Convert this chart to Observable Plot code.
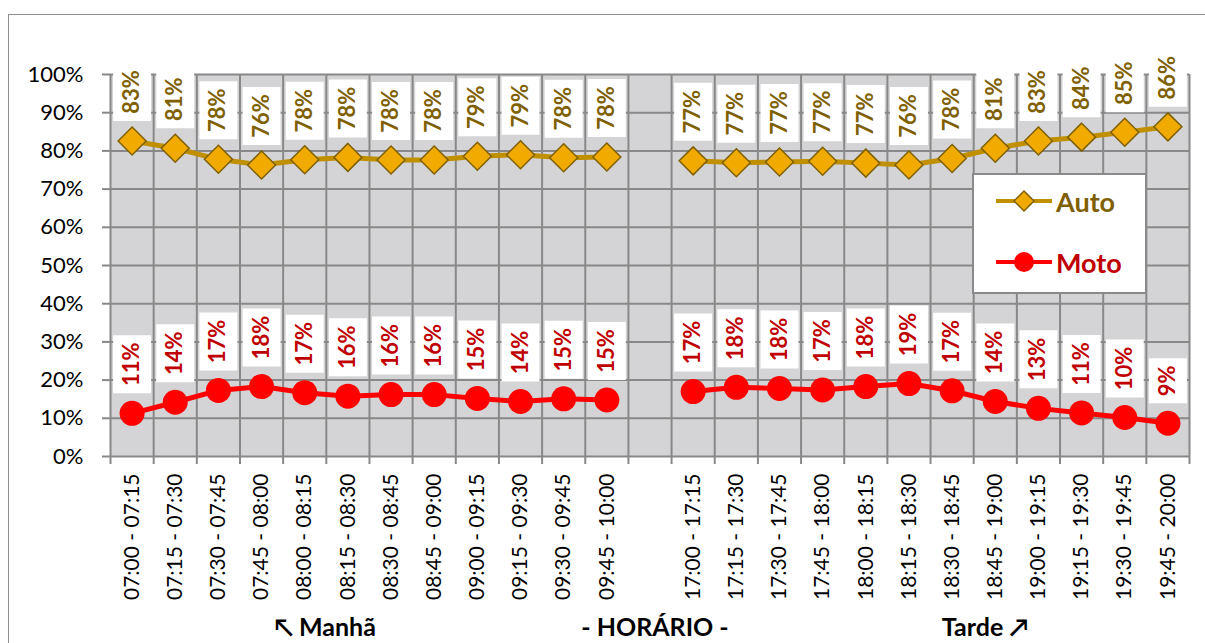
<!DOCTYPE html>
<html>
<head>
<meta charset="utf-8">
<script src="https://cdn.jsdelivr.net/npm/d3@7"></script>
<script src="https://cdn.jsdelivr.net/npm/@observablehq/plot@0.6"></script>
<style>
  body { margin: 0; background: #fff; font-family: Lato, "Open Sans", sans-serif; }
  #wrap { position: relative; width: 1205px; height: 643px; overflow: hidden; background: #fff; }
  #chart { position: absolute; left: 0; top: 0; }
  #border { position: absolute; left: 8px; top: 14px; width: 1300px; height: 800px; border: 1.5px solid #8e8e8e; pointer-events: none; z-index: 3; }
  #legend { position: absolute; left: 972px; top: 173px; width: 171px; height: 117px; background: #fff; border: 2px solid #8a8a8a; z-index: 2; }
  .leg { position: absolute; left: 0; height: 40px; display: flex; align-items: center; font-weight: bold; font-size: 27px; }
  .leg svg { margin-left: 22px; margin-right: 4px; }
  .bt { position: absolute; top: 614px; font-size: 25px; line-height: 25px; font-weight: bold; color: #000; transform: translateX(-50%); white-space: nowrap; }
</style>
</head>
<body>
<div id="wrap">
  <div id="chart"></div>
  <div id="legend"></div>
  <div id="bottom"></div>
  <div id="border"></div>
</div>
<script>
// ---- Data ----
const horarios = [
  "07:00 - 07:15", "07:15 - 07:30", "07:30 - 07:45", "07:45 - 08:00",
  "08:00 - 08:15", "08:15 - 08:30", "08:30 - 08:45", "08:45 - 09:00",
  "09:00 - 09:15", "09:15 - 09:30", "09:30 - 09:45", "09:45 - 10:00",
  "",
  "17:00 - 17:15", "17:15 - 17:30", "17:30 - 17:45", "17:45 - 18:00",
  "18:00 - 18:15", "18:15 - 18:30", "18:30 - 18:45", "18:45 - 19:00",
  "19:00 - 19:15", "19:15 - 19:30", "19:30 - 19:45", "19:45 - 20:00"
];
const autoPct = [82.6, 80.7, 77.8, 76.3, 77.7, 78.3, 77.6, 77.6, 78.6, 79.0, 78.2, 78.4,
  null,
  77.4, 76.9, 77.1, 77.3, 76.8, 76.3, 78.0, 80.7, 82.6, 83.6, 84.9, 86.3];
const motoPct = [11.3, 14.2, 17.3, 18.3, 16.7, 15.8, 16.2, 16.2, 15.2, 14.4, 15.1, 14.8,
  null,
  17.0, 18.1, 17.8, 17.4, 18.3, 19.1, 17.2, 14.4, 12.6, 11.4, 10.2, 8.7];
const yTicks = [0, 10, 20, 30, 40, 50, 60, 70, 80, 90, 100];
const seriesNames = ["Auto", "Moto"];
const bottomTitles = ["↖ Manhã", "- HORÁRIO -", "Tarde ↗"];

// ---- Styles ----
const gridColor = "#888888";
const bgColor = "#d4d4d6";
const autoLine = "#C09000", autoFill = "#F0AA00", autoDark = "#7F6000";
const motoLine = "#FF0000", motoText = "#C00000";

const rows = horarios.map((h, i) => ({h, pos: i + 0.5, auto: autoPct[i], moto: motoPct[i]}));
const labeled = rows.filter(d => d.h !== "");
const fmt = v => Math.round(v) + "%";

// label box symbols (white rectangles behind rotated labels)
const boxLong = {draw(ctx) { ctx.rect(-19, -29, 38, 58); }};
const boxShort = {draw(ctx) { ctx.rect(-19, -22.5, 38, 45); }};

function labelMarks(key, color) {
  const pts = rows.filter(d => d[key] != null);
  const long = pts.filter(d => fmt(d[key]).length >= 3);
  const short = pts.filter(d => fmt(d[key]).length < 3);
  const out = [];
  for (const [set, sym, off] of [[long, boxLong, 49], [short, boxShort, 42.5]]) {
    if (!set.length) continue;
    out.push(Plot.dot(set, {x: "pos", y: key, symbol: sym, r: 10, fill: "#fff", stroke: "none", dy: -off}));
    out.push(Plot.text(set, {x: "pos", y: key, text: d => fmt(d[key]), rotate: -90, textAnchor: "middle",
      dy: -off, fill: color, fontWeight: "bold", fontSize: 22}));
  }
  return out;
}

const chart = Plot.plot({
  width: 1205, height: 600,
  marginLeft: 110, marginRight: 16, marginTop: 74, marginBottom: 144,
  style: {background: "transparent", fontFamily: "Lato, 'Open Sans', sans-serif", overflow: "visible"},
  x: {type: "linear", domain: [0, horarios.length]},
  y: {domain: [0, 100]},
  marks: [
    Plot.rect(rows, {x1: d => d.pos - 0.5, x2: d => d.pos + 0.5, y1: 0, y2: 100, fill: bgColor}),
    Plot.ruleX(d3.range(horarios.length + 1), {y1: 0, y2: 100, stroke: gridColor, strokeWidth: 2}),
    Plot.ruleY(yTicks, {stroke: gridColor, strokeWidth: 2}),
    Plot.axisY({ticks: yTicks, tickFormat: d => d + "%", tickSize: 8, tickPadding: 19,
      fontSize: 22, stroke: gridColor, strokeWidth: 2, fill: "#000", label: null}),
    Plot.axisX({ticks: d3.range(horarios.length + 1), tickSize: 8, tickFormat: () => "",
      stroke: gridColor, strokeWidth: 2, label: null}),
    Plot.axisX({ticks: labeled.map(d => d.pos), tickFormat: v => horarios[Math.floor(v)],
      tickSize: 0, tickPadding: 17, tickRotate: -90, fontSize: 21, fill: "#000", label: null}),
    Plot.line(rows, {x: "pos", y: "auto", stroke: autoLine, strokeWidth: 5}),
    Plot.line(rows, {x: "pos", y: "moto", stroke: motoLine, strokeWidth: 5}),
    Plot.dot(rows.filter(d => d.auto != null), {x: "pos", y: "auto", symbol: "diamond2", r: 12.6,
      fill: autoFill, stroke: autoDark, strokeWidth: 1.5}),
    Plot.dot(rows.filter(d => d.moto != null), {x: "pos", y: "moto", r: 12.5, fill: motoLine}),
    ...labelMarks("auto", autoDark),
    ...labelMarks("moto", motoText)
  ]
});
document.getElementById("chart").append(chart);

// legend
const legend = document.getElementById("legend");
const legSpecs = [
  {name: seriesNames[0], color: autoDark, top: 6,
   svg: `<svg width="56" height="24"><line x1="0" y1="12" x2="56" y2="12" stroke="${autoLine}" stroke-width="4"/><path d="M28,2 L38,12 L28,22 L18,12 Z" fill="${autoFill}" stroke="${autoDark}" stroke-width="1.5"/></svg>`},
  {name: seriesNames[1], color: motoText, top: 67,
   svg: `<svg width="56" height="24"><line x1="0" y1="12" x2="56" y2="12" stroke="${motoLine}" stroke-width="4"/><circle cx="28" cy="12" r="10" fill="${motoLine}"/></svg>`}
];
for (const s of legSpecs) {
  const d = document.createElement("div");
  d.className = "leg";
  d.style.top = s.top + "px";
  d.style.color = s.color;
  d.innerHTML = s.svg + `<span>${s.name}</span>`;
  legend.append(d);
}

// bottom titles
const bottom = document.getElementById("bottom");
const centers = [325, 655, 985];
bottomTitles.forEach((t, i) => {
  const d = document.createElement("div");
  d.className = "bt";
  d.style.left = centers[i] + "px";
  d.textContent = t;
  bottom.append(d);
});
</script>
</body>
</html>
